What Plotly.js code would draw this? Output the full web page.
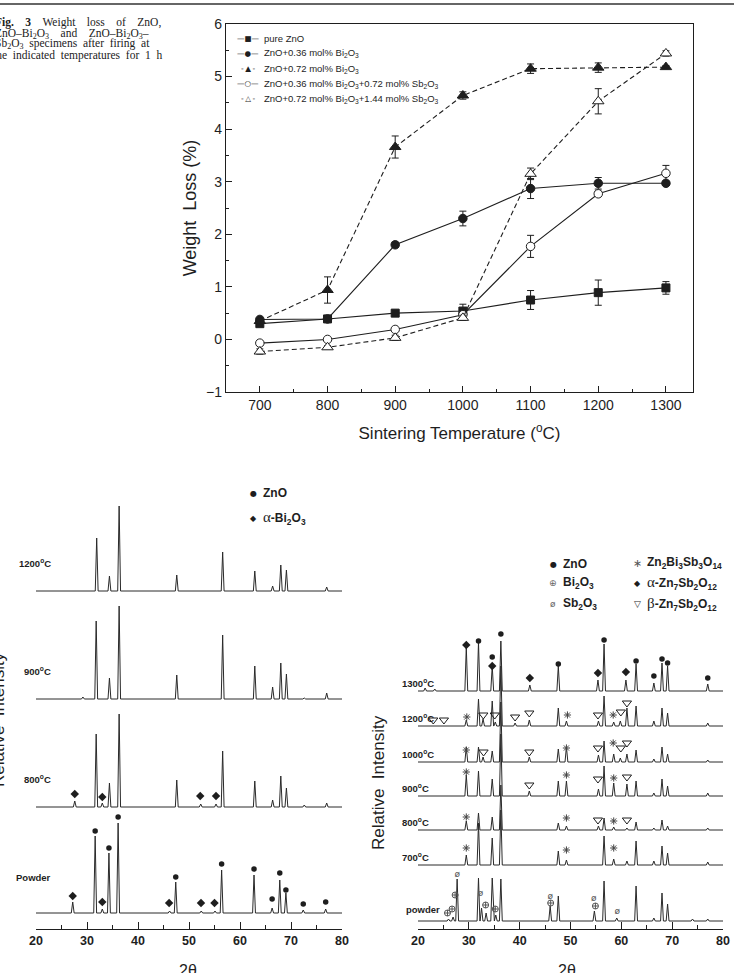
<!DOCTYPE html>
<html>
<head>
<meta charset="utf-8">
<script src="https://cdn.plot.ly/plotly-3.0.1.min.js"></script>
<style>
  html, body { margin: 0; padding: 0; background: #fff; }
  #fig { width: 734px; height: 973px; }
</style>
</head>
<body>
<div id="fig"></div>
<script>
// ---------- Fig. 3: weight loss vs sintering temperature ----------
const temps = [700, 800, 900, 1000, 1100, 1200, 1300];

const lossPure   = [0.30, 0.39, 0.50, 0.54, 0.75, 0.89, 0.98];
const errPure    = [0.03, 0.03, 0.05, 0.13, 0.18, 0.24, 0.12];
const lossBi36   = [0.38, 0.39, 1.80, 2.30, 2.87, 2.97, 2.97];
const errBi36    = [0.03, 0.03, 0.05, 0.14, 0.19, 0.11, 0.03];
const lossBi72   = [0.35, 0.94, 3.66, 4.64, 5.15, 5.17, 5.18];
const errBi72    = [0.03, 0.25, 0.21, 0.07, 0.09, 0.09, 0.03];
const lossBiSb36 = [-0.07, 0.00, 0.19, 0.47, 1.77, 2.77, 3.16];
const errBiSb36  = [0.03, 0.03, 0.03, 0.05, 0.21, 0.05, 0.15];
const lossBiSb72 = [-0.23, -0.15, 0.03, 0.41, 3.15, 4.53, 5.44];
const errBiSb72  = [0.05, 0.03, 0.05, 0.05, 0.11, 0.24, 0.05];

const seriesNames = [
  'pure ZnO',
  'ZnO+0.36 mol% Bi<sub>2</sub>O<sub>3</sub>',
  'ZnO+0.72 mol% Bi<sub>2</sub>O<sub>3</sub>',
  'ZnO+0.36 mol% Bi<sub>2</sub>O<sub>3</sub>+0.72 mol% Sb<sub>2</sub>O<sub>3</sub>',
  'ZnO+0.72 mol% Bi<sub>2</sub>O<sub>3</sub>+1.44 mol% Sb<sub>2</sub>O<sub>3</sub>'
];

// ---------- XRD patterns, ZnO–Bi2O3 (left panel) ----------
// peak positions (2θ) and heights above each pattern's baseline
const leftLabels  = ['Powder', '800<sup>o</sup>C', '900<sup>o</sup>C', '1200<sup>o</sup>C'];
const leftBase    = [16, 122, 230, 338];
const leftPeakPos = [
  [27.2, 31.6, 33.0, 34.3, 36.1, 46.2, 47.4, 52.4, 55.1, 56.4, 62.75, 66.3, 67.8, 69.0, 72.4, 76.8],
  [27.6, 31.8, 33.0, 34.4, 36.3, 47.6, 52.3, 55.3, 56.6, 62.9, 66.4, 68.0, 69.1, 72.6, 77.0],
  [29.2, 31.8, 34.4, 36.3, 47.6, 56.6, 62.9, 66.4, 68.0, 69.1, 72.6, 77.0],
  [31.9, 34.4, 36.3, 47.6, 56.6, 62.9, 66.4, 68.0, 69.1, 77.0]
];
const leftPeakH = [
  [11, 77, 4, 60, 90, 2, 31, 2, 2, 43, 38, 5, 33, 20, 3, 4],
  [6, 73, 4, 24, 93, 27, 3, 3, 56, 26, 7, 31, 19, 2, 4],
  [2, 78, 21, 93, 24, 64, 33, 12, 36, 25, 1, 6],
  [53, 15, 85, 16, 39, 20, 5, 26, 21, 4]
];
// phase markers, left panel
const leftZnOX = [31.6, 34.3, 36.1, 47.4, 56.4, 62.75, 66.3, 67.8, 69.0, 72.4, 76.8];
const leftZnOY = [98, 81, 112, 52, 65, 60, 30, 56, 39, 25, 27];
const leftBiX  = [27.2, 33.0, 46.1, 52.35, 55.0, 27.6, 33.0, 52.2, 55.3];
const leftBiY  = [33, 27, 26, 26, 26, 135, 132, 133, 133];

// ---------- XRD patterns, ZnO–Bi2O3–Sb2O3 (right panel) ----------
const rightLabels  = ['powder', '700<sup>o</sup>C', '800<sup>o</sup>C', '900<sup>o</sup>C', '1000<sup>o</sup>C', '1200<sup>o</sup>C', '1300<sup>o</sup>C'];
const rightBase    = [8, 64, 99, 133, 167, 203, 238];
const rightPeakPos = [
  [26.0, 26.9, 27.7, 31.9, 32.5, 33.4, 34.6, 35.3, 36.3, 46.0, 47.6, 54.7, 56.6, 59.1, 62.9, 66.4, 68.0, 69.1, 74.0, 77.0],
  [29.5, 31.9, 34.6, 36.3, 47.6, 49.2, 56.6, 58.5, 61.1, 62.9, 66.4, 68.0, 69.1, 77.0],
  [29.5, 31.9, 34.6, 36.3, 47.6, 49.2, 55.5, 56.6, 58.5, 61.1, 62.9, 66.4, 68.0, 69.1, 77.0],
  [29.5, 31.9, 34.6, 36.3, 41.9, 47.6, 49.2, 55.5, 56.6, 58.5, 61.1, 62.9, 66.4, 68.0, 69.1, 77.0],
  [29.5, 31.9, 32.8, 34.6, 36.3, 41.9, 47.6, 49.2, 55.5, 56.6, 58.5, 59.8, 61.1, 62.9, 66.4, 68.0, 69.1, 77.0],
  [29.5, 31.9, 32.8, 34.6, 35.2, 36.3, 39.1, 41.9, 47.6, 49.2, 55.5, 56.6, 58.5, 59.8, 61.1, 62.9, 66.4, 68.0, 69.1, 77.0],
  [21.4, 23.3, 29.5, 31.9, 34.6, 36.3, 42.0, 47.6, 55.4, 56.6, 60.9, 62.9, 66.4, 68.0, 69.1, 77.0]
];
const rightPeakH = [
  [2, 4, 42, 43, 13, 8, 43, 6, 42, 15, 25, 10, 40, 3, 35, 3, 28, 17, 2, 2],
  [10, 42, 27, 55, 14, 5, 29, 6, 4, 24, 4, 19, 12, 3],
  [9, 17, 13, 45, 7, 4, 4, 12, 3, 2, 8, 2, 10, 4, 2],
  [21, 25, 17, 62, 5, 15, 15, 7, 30, 13, 12, 15, 3, 17, 10, 3],
  [15, 15, 5, 11, 60, 5, 13, 15, 7, 21, 8, 4, 8, 12, 3, 15, 8, 2],
  [6, 27, 7, 25, 4, 60, 3, 6, 18, 5, 5, 30, 4, 5, 18, 20, 5, 18, 13, 3],
  [3, 2, 44, 49, 25, 50, 6, 25, 11, 47, 11, 27, 8, 28, 25, 7]
];
// phase markers, right panel
const rZnOX = [31.9, 34.6, 36.3, 47.6, 56.6, 62.9, 66.4, 68.0, 69.1, 77.0];
const rZnOY = [288, 272, 295, 265, 289, 268, 253, 270, 266, 251];
const rAlphaX = [29.5, 34.6, 42.0, 55.4, 60.9];
const rAlphaY = [284, 263, 251, 256, 257];
const rPyroX = [29.6, 49.4, 58.4, 29.5, 49.2, 58.4, 29.5, 49.2, 58.5, 29.5, 49.2, 58.5, 29.5, 49.2, 58.5];
const rPyroY = [212, 214, 214, 179, 181, 186, 157, 154, 151, 112, 111, 108, 81, 79, 81];
const rBetaX = [23.0, 25.1, 32.85, 35.1, 39.1, 41.9, 55.4, 59.9, 61.1,
                32.9, 41.9, 55.4, 59.9, 61.1,
                41.9, 55.4, 61.1,
                55.4, 61.1];
const rBetaY = [209, 209, 214, 214, 212, 216, 214, 217, 226,
                177, 177, 181, 181, 186,
                144, 150, 152,
                109, 109];
const rBi2O3X = [25.8, 26.7, 27.3, 33.3, 35.2, 46.1, 54.9];
const rBi2O3Y = [16, 20, 34, 24, 20, 26, 23];
const rSb2O3X = [27.7, 32.3, 46.0, 54.6, 59.2];
const rSb2O3Y = [54, 35, 32, 30, 17];

// ---------- helpers ----------
const W = 734, H = 973;
const px = v => v / W;
const py = v => 1 - v / H;
const FONT = 'Liberation Sans, Arial, sans-serif';
const INK = '#1e1e1e';
const HALF_WIDTH = 0.28;   // half base width of a drawn peak, degrees 2θ
const NB = '\u00a0';

// polyline for one diffraction pattern: flat baseline with a spike per peak
function patternLine(pos, hts, base) {
  const idx = pos.map((_, i) => i).sort((a, b) => pos[a] - pos[b]);
  const xs = [20], ys = [base];
  idx.forEach(i => {
    xs.push(pos[i] - HALF_WIDTH, pos[i], pos[i] + HALF_WIDTH);
    ys.push(base, base + hts[i], base);
  });
  xs.push(80); ys.push(base);
  return { x: xs, y: ys };
}

const traces = [];

// weight loss curves
const lossSets = [
  { y: lossPure,   e: errPure,    sym: 'square',      fill: INK,    dash: 'solid',   size: 8,   key: '—■—' },
  { y: lossBi36,   e: errBi36,    sym: 'circle',      fill: INK,    dash: 'solid',   size: 8.5, key: '—●—' },
  { y: lossBi72,   e: errBi72,    sym: 'triangle-up', fill: INK,    dash: '5px,3px', size: 10,  key: '-\u2009▲\u2009-' },
  { y: lossBiSb36, e: errBiSb36,  sym: 'circle',      fill: '#fff', dash: 'solid',   size: 8.5, key: '—○—' },
  { y: lossBiSb72, e: errBiSb72,  sym: 'triangle-up', fill: '#fff', dash: '5px,3px', size: 10,  key: '-\u2009△\u2009-' }
];
lossSets.forEach((s, i) => {
  traces.push({
    x: temps, y: s.y, name: seriesNames[i], type: 'scatter', mode: 'lines+markers',
    xaxis: 'x', yaxis: 'y', showlegend: false,
    line: { color: INK, width: 1.1, dash: s.dash },
    marker: { symbol: s.sym, size: s.size, color: s.fill, line: { color: INK, width: 1 } },
    error_y: { type: 'data', array: s.e, visible: true, color: INK, thickness: 1, width: 3.5 },
    cliponaxis: false
  });
});

// XRD lines
leftBase.forEach((b, i) => {
  const l = patternLine(leftPeakPos[i], leftPeakH[i], b);
  traces.push({ x: l.x, y: l.y, xaxis: 'x2', yaxis: 'y2', type: 'scatter', mode: 'lines',
    line: { color: '#2a2a2a', width: 1 }, showlegend: false, hoverinfo: 'skip' });
});
rightBase.forEach((b, i) => {
  const l = patternLine(rightPeakPos[i], rightPeakH[i], b);
  traces.push({ x: l.x, y: l.y, xaxis: 'x3', yaxis: 'y3', type: 'scatter', mode: 'lines',
    line: { color: '#2a2a2a', width: 1 }, showlegend: false, hoverinfo: 'skip' });
});

// phase markers
function markerTrace(x, y, ax, ay, symbol, size, color, lw) {
  return { x, y, xaxis: ax, yaxis: ay, type: 'scatter', mode: 'markers', showlegend: false,
    hoverinfo: 'skip', cliponaxis: false,
    marker: { symbol, size, color, line: { color, width: lw || 0 } } };
}
traces.push(markerTrace(leftZnOX, leftZnOY, 'x2', 'y2', 'circle', 5.5, INK));
traces.push(markerTrace(leftBiX, leftBiY, 'x2', 'y2', 'diamond', 6.5, INK));
traces.push(markerTrace(rZnOX, rZnOY, 'x3', 'y3', 'circle', 5.5, INK));
traces.push(markerTrace(rAlphaX, rAlphaY, 'x3', 'y3', 'diamond', 6.5, INK));
traces.push(markerTrace(rPyroX, rPyroY, 'x3', 'y3', 'asterisk-open', 6, '#444', 1));
traces.push(markerTrace(rBetaX, rBetaY, 'x3', 'y3', 'triangle-down-open', 8, INK, 1));
traces.push(markerTrace(rBi2O3X, rBi2O3Y, 'x3', 'y3', 'circle-cross-open', 6, '#555', 1));
traces.push({ x: rSb2O3X, y: rSb2O3Y, xaxis: 'x3', yaxis: 'y3', type: 'scatter', mode: 'text',
  text: rSb2O3X.map(() => 'ø'), textfont: { family: 'DejaVu Sans', size: 9, color: '#555' },
  showlegend: false, hoverinfo: 'skip', cliponaxis: false });

// ---------- annotations ----------
const ann = [];
const gap = n => NB.repeat(n);
const caption = [
  '<b>Fig.' + gap(3) + ' 3</b>' + gap(3) + ' Weight' + gap(3) + ' loss' + gap(3) + ' of' + gap(3) + ' ZnO,',
  'ZnO–Bi<sub>2</sub>O<sub>3</sub>' + gap(3) + ' and' + gap(3) + ' ZnO–Bi<sub>2</sub>O<sub>3</sub>–',
  'Sb<sub>2</sub>O<sub>3</sub>' + gap(1) + ' specimens' + gap(1) + ' after' + gap(1) + ' firing' + gap(1) + ' at',
  'the' + gap(1) + ' indicated' + gap(1) + ' temperatures' + gap(1) + ' for' + gap(1) + ' 1' + gap(1) + ' h'
];
const capX = [-7, -7.5, -7, -9];
caption.forEach((t, i) => ann.push({
  xref: 'paper', yref: 'paper', x: px(capX[i]), y: py(23 + i * 10.7), xanchor: 'left', yanchor: 'middle',
  text: t, showarrow: false, font: { family: 'Liberation Serif, Times New Roman, serif', size: 11.5, color: '#222' }
}));

// legend of the weight-loss plot
lossSets.forEach((s, i) => {
  const yy = 38.3 + i * 15.1;
  ann.push({ xref: 'paper', yref: 'paper', x: px(248), y: py(yy), xanchor: 'center', yanchor: 'middle',
    text: s.key, showarrow: false, font: { family: 'DejaVu Sans', size: 7.5, color: INK } });
  ann.push({ xref: 'paper', yref: 'paper', x: px(262), y: py(yy), xanchor: 'left', yanchor: 'middle',
    text: seriesNames[i], showarrow: false, font: { family: FONT, size: 9.5, color: INK } });
});

// pattern labels
leftLabels.forEach((t, i) => ann.push({
  xref: 'paper', yref: 'y2', x: px(53), y: leftBase[i] + (i === 0 ? 36 : 28), xanchor: 'right', yanchor: 'middle',
  text: t, showarrow: false, font: { family: FONT, size: 9.5, color: INK, weight: 'bold' }
}));
rightLabels.forEach((t, i) => ann.push({
  xref: 'paper', yref: 'y3', x: px(i === 0 ? 404 : 400), y: rightBase[i] + (i === 0 ? 12 : 8), xanchor: 'left', yanchor: 'middle',
  text: t, showarrow: false, font: { family: FONT, size: 9.5, color: INK, weight: 'bold' }
}));

// phase keys
function key(x, y, sym, symSize, symColor, label) {
  ann.push({ xref: 'paper', yref: 'paper', x: px(x), y: py(y), xanchor: 'center', yanchor: 'middle',
    text: sym, showarrow: false, font: { family: 'DejaVu Sans', size: symSize, color: symColor } });
  ann.push({ xref: 'paper', yref: 'paper', x: px(x + 8), y: py(y), xanchor: 'left', yanchor: 'middle',
    text: label, showarrow: false, font: { family: FONT, size: 12, color: INK, weight: 'bold' } });
}
const alpha = '<span style="font-family:Liberation Serif;font-weight:normal;font-size:15px">α</span>';
const beta  = '<span style="font-family:Liberation Serif;font-weight:normal;font-size:15px">β</span>';
key(253, 493, '●', 8, INK, 'ZnO');
key(253, 518, '◆', 8, INK, alpha + '-Bi<sub>2</sub>O<sub>3</sub>');
key(553, 564, '●', 8, INK, 'ZnO');
key(553, 583, '⊕', 9, '#666', 'Bi<sub>2</sub>O<sub>3</sub>');
key(553, 604, 'ø', 9, '#666', 'Sb<sub>2</sub>O<sub>3</sub>');
key(637, 563, '∗', 11, '#555', 'Zn<sub>2</sub>Bi<sub>3</sub>Sb<sub>3</sub>O<sub>14</sub>');
key(637, 583, '◆', 8, INK, alpha + '-Zn<sub>7</sub>Sb<sub>2</sub>O<sub>12</sub>');
key(637, 604, '▽', 9, INK, beta + '-Zn<sub>7</sub>Sb<sub>2</sub>O<sub>12</sub>');

// XRD axis titles
[188, 567].forEach(cx => ann.push({
  xref: 'paper', yref: 'paper', x: px(cx), y: py(960), xanchor: 'center', yanchor: 'top',
  text: '2θ', showarrow: false, font: { family: FONT, size: 16, color: INK }
}));
ann.push({ xref: 'paper', yref: 'paper', x: px(378), y: py(783), xanchor: 'center', yanchor: 'middle',
  text: 'Relative  Intensity', textangle: -90, showarrow: false, font: { family: FONT, size: 17, color: INK } });
ann.push({ xref: 'paper', yref: 'paper', x: px(-2), y: py(720), xanchor: 'center', yanchor: 'middle',
  text: 'Relative  Intensity', textangle: -90, showarrow: false, font: { family: FONT, size: 17, color: INK } });

// ---------- layout ----------
const xrdAxis = (domain, anchor) => ({
  domain, anchor, range: [20, 80], tick0: 20, dtick: 10, ticks: 'inside', ticklen: 7, tickwidth: 1,
  tickcolor: INK, showline: true, linecolor: INK, linewidth: 1.2, showgrid: false, zeroline: false,
  minor: { ticks: 'inside', ticklen: 4, dtick: 5, tickcolor: INK },
  tickfont: { family: FONT, size: 12.5, color: INK, weight: 'bold' }, fixedrange: true
});

const layout = {
  width: W, height: H,
  margin: { l: 0, r: 0, t: 0, b: 0 },
  paper_bgcolor: '#fff', plot_bgcolor: 'rgba(0,0,0,0)',
  font: { family: FONT, color: INK },
  showlegend: false,
  xaxis: {
    domain: [px(226), px(693)], anchor: 'y', range: [650, 1340], tick0: 700, dtick: 100,
    ticks: 'inside', ticklen: 6, tickwidth: 1, tickcolor: INK,
    minor: { ticks: 'inside', ticklen: 3, dtick: 50, tick0: 650, tickcolor: INK },
    showline: true, linecolor: INK, linewidth: 1.2, mirror: true, showgrid: false, zeroline: false,
    tickfont: { family: FONT, size: 14, color: INK },
    title: { text: 'Sintering Temperature (<sup>o</sup>C)', font: { family: FONT, size: 17, color: INK }, standoff: 15 }
  },
  yaxis: {
    domain: [py(392), py(24)], anchor: 'x', range: [-1, 6], dtick: 1,
    ticks: 'inside', ticklen: 6, tickwidth: 1, tickcolor: INK,
    minor: { ticks: 'inside', ticklen: 3, dtick: 0.5, tickcolor: INK },
    showline: true, linecolor: INK, linewidth: 1.2, mirror: true, showgrid: false, zeroline: false,
    tickfont: { family: FONT, size: 14, color: INK },
    title: { text: 'Weight  Loss (%)', font: { family: FONT, size: 18, color: INK }, standoff: 4 }
  },
  xaxis2: xrdAxis([px(36), px(342)], 'y2'),
  yaxis2: { domain: [py(929), py(469)], anchor: 'x2', range: [0, 460], visible: false, fixedrange: true },
  xaxis3: xrdAxis([px(418), px(723)], 'y3'),
  yaxis3: { domain: [py(929), py(529)], anchor: 'x3', range: [0, 400], visible: false, fixedrange: true },
  annotations: ann,
  shapes: [
    { type: 'line', xref: 'paper', yref: 'paper', x0: 0, x1: 1, y0: py(4), y1: py(4),
      line: { color: '#333', width: 1.6 } }
  ]
};

Plotly.newPlot('fig', traces, layout, { staticPlot: true, displayModeBar: false });
</script>
</body>
</html>
